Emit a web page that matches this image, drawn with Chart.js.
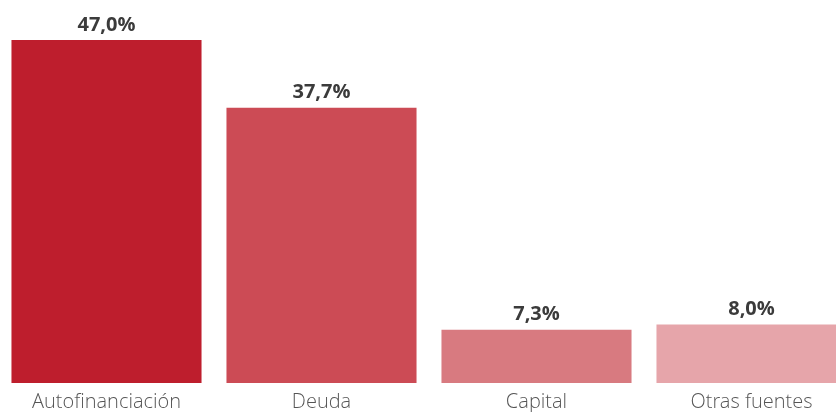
<!DOCTYPE html>
<html>
<head>
<meta charset="utf-8">
<script src="https://cdn.jsdelivr.net/npm/chart.js@4"></script>
<style>
  html, body { margin: 0; padding: 0; background: #fff; overflow: hidden; }
  #wrap { position: absolute; left: -1px; top: 0; width: 860px; height: 423px; }
</style>
</head>
<body>
<div id="wrap"><canvas id="barChart"></canvas></div>
<script>
var categories = ["Autofinanciación", "Deuda", "Capital", "Otras fuentes"];
var values = [47.0, 37.7, 7.3, 8.0];
var barColors = ["#BE1E2D", "#CC4B55", "#D87A80", "#E6A5AA"];

function fmt(v) {
    return v.toFixed(1).replace(".", ",") + "%";
}

var valueLabels = {
    id: "valueLabels",
    afterDatasetsDraw: function (chart) {
        var ctx = chart.ctx;
        var meta = chart.getDatasetMeta(0);
        ctx.save();
        ctx.font = "bold 20px 'Open Sans'";
        ctx.fillStyle = "#3b3b3b";
        ctx.textAlign = "center";
        ctx.textBaseline = "bottom";
        meta.data.forEach(function (bar, i) {
            ctx.fillText(fmt(values[i]), bar.x, bar.y - 5);
        });
        ctx.restore();
    }
};

var ctx = document.getElementById("barChart").getContext("2d");
var myBarChart = new Chart(ctx, {
    type: "bar",
    data: {
        labels: categories,
        datasets: [
            {
                data: values,
                backgroundColor: barColors,
                barPercentage: 0.884,
                categoryPercentage: 1.0
            }
        ]
    },
    options: {
        responsive: true,
        maintainAspectRatio: false,
        animation: false,
        layout: { padding: { top: 18, left: 0, right: 0, bottom: 0 } },
        plugins: {
            legend: { display: false },
            tooltip: { enabled: false }
        },
        scales: {
            x: {
                grid: { display: false, drawTicks: false },
                border: { display: false },
                ticks: {
                    color: "#555",
                    font: { family: "'Open Sans Light', 'Open Sans'", size: 20, weight: 300 },
                    padding: 8,
                    maxRotation: 0
                }
            },
            y: {
                display: false,
                min: 0,
                max: 50
            }
        }
    },
    plugins: [valueLabels]
});
</script>
</body>
</html>
